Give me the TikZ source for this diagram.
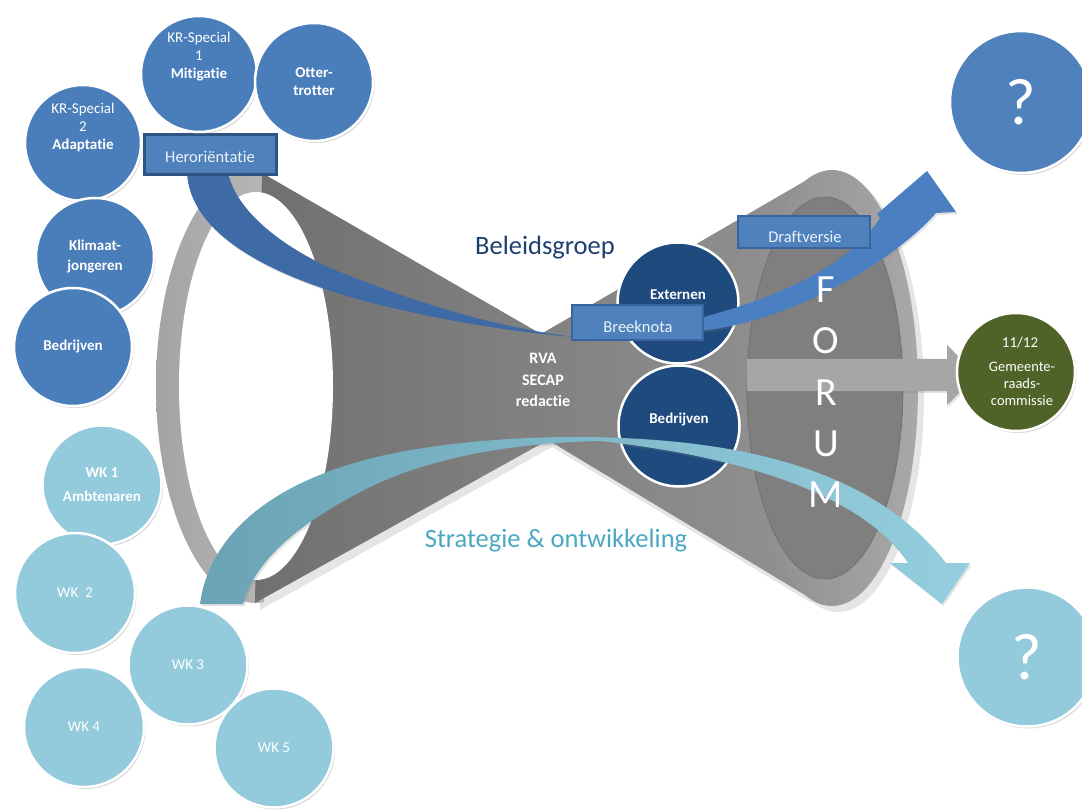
\documentclass[tikz,border=0pt]{standalone}
\usepackage{fontspec}
\setmainfont{Carlito}[Ligatures=NoCommon]
\usetikzlibrary{shadows}
\definecolor{cblue}{HTML}{4F81BD}
\definecolor{cbluec}{HTML}{4A7EBB}
\definecolor{clight}{HTML}{93CADC}
\definecolor{cnavy}{HTML}{1F4A7E}
\definecolor{cgreen}{HTML}{4F6228}
\definecolor{cboxline}{HTML}{3A64A0}
\definecolor{cheroline}{HTML}{2E5484}
\definecolor{carrowb}{HTML}{3E6AA6}
\definecolor{carrowr}{HTML}{4A80C2}
\definecolor{ctitle}{HTML}{1F3F6F}
\definecolor{cstrat}{HTML}{4BA8C2}
\definecolor{cring}{HTML}{B4B4B4}
\definecolor{cface}{HTML}{7F7F7F}
\definecolor{cgarrow}{HTML}{A6A6A6}
\definecolor{cbodyl}{HTML}{707070}
\definecolor{cbodyr}{HTML}{939393}
\definecolor{crimL}{HTML}{8C8C8C}
\definecolor{crimR}{HTML}{A8A8A8}
\definecolor{cstratL}{HTML}{6AA3B3}
\definecolor{cstratR}{HTML}{95CEDF}
\newcommand\fsz[2]{\fontsize{#1}{#2}\selectfont}
\begin{document}
\begin{tikzpicture}[x=1pt,y=-1pt,
 circ/.style={circle,draw=white,line width=2.5pt,inner sep=0pt,text=white,align=center,
   font=\fsz{15}{18},
   drop shadow={opacity=0.3,shadow xshift=1.5pt,shadow yshift=-2pt}},
 ctext/.style={text=white,align=center,inner sep=0pt,font=\fsz{15}{18}},
 boxn/.style={rectangle,fill=cblue,draw=cboxline,line width=2.5pt,inner sep=0pt},
 boxtext/.style={text=white!90!cblue,inner sep=0pt,font=\fsz{16.5}{20}},
 forum/.style={text=white,inner sep=0pt,font=\fsz{40}{40}},
 shad/.style={drop shadow={opacity=0.22,shadow xshift=1.5pt,shadow yshift=-2pt}}
]
\useasboundingbox (0,0) rectangle (1082,810);
\fill[white] (0,0) rectangle (1082,810);

% soft shadow of the funnel
\fill[black, opacity=0.10] (264,178) -- (545,341) -- (810,188) -- (838,184) -- (838,612) -- (810,602) -- (552,447) -- (260,610) -- cycle
  (838,394) ellipse [x radius=86, y radius=218];

% left ring
\begin{scope}
\clip (0,0) rectangle (264,810);
\shade[left color=black!36, right color=black!22] (256,386) ellipse [x radius=100, y radius=217];
\end{scope}
% body
\shade[left color=cbodyl, right color=cbodyr]
  (262,173) -- (541,334) -- (805,181) -- (832,176) -- (832,600) -- (805,595) -- (548,440) -- (255,603) -- cycle;
\shade[left color=crimL, right color=crimR] (832,388) ellipse [x radius=86, y radius=218];
\fill[white] (256,386) ellipse [x radius=77, y radius=194];
\fill[cface, draw=black!58, line width=0.6pt] (825,388) ellipse [x radius=78, y radius=191];

% titles
\node[text=ctitle, font=\fsz{26.5}{30}, inner sep=0pt] (beleid) at (545,248) {Beleidsgroep};
\node[text=cstrat, font=\fsz{26.5}{30}, inner sep=0pt] (strat) at (556,541) {Strategie \& ontwikkeling};
\node[ctext, font=\fsz{16}{21.5}\bfseries] (rva) at (543,380) {RVA\\SECAP\\redactie};

% navy circles
\node[circ, fill=cnavy, minimum size=121] (ext) at (678,303) {};
\node[ctext, font=\fsz{15}{18}\bfseries] (extt) at (678,295) {Externen};
\node[circ, fill=cnavy, minimum size=121] (bedr) at (679,426) {};
\node[ctext, font=\fsz{15}{18}\bfseries] (bedrt) at (679,420) {Bedrijven};

% Herorientatie arrow
\fill[carrowb, shad] (187,173) .. controls (190,230) and (260,275) .. (380,305)
  .. controls (450,322) and (520,333) .. (575,337)
  .. controls (500,328) and (420,305) .. (330,268)
  .. controls (270,240) and (235,205) .. (228,173) -- cycle;

% strategy arrow
\shade[left color=cstratL, right color=cstratR, shad]
  (200,604) .. controls (210,530) and (280,475) .. (400,452)
  .. controls (460,441) and (520,437) .. (580,437)
  .. controls (730,438) and (870,465) .. (946,563)
  -- (970,563) -- (942,604) -- (890,563) -- (908,563)
  .. controls (870,505) and (770,460) .. (600,441)
  .. controls (510,443) and (430,458) .. (370,487)
  .. controls (300,522) and (255,560) .. (243,604) -- cycle;

% right blue arrow
\fill[carrowr, shad] (700,318) .. controls (780,297) and (850,265) .. (880,218)
  -- (877,214) -- (927,171) -- (956,212) -- (936,213)
  .. controls (900,255) and (800,320) .. (700,331) -- cycle;

% boxes
\node[boxn, minimum width=131, minimum height=35] (breek) at (637.5,322.5) {};
\node[boxtext] (breekt) at (638,327) {Breeknota};
\node[boxn, minimum width=132, minimum height=32] (draft) at (804,232) {};
\node[boxtext] (draftt) at (805,237) {Draftversie};
\node[boxn, draw=cheroline, line width=3pt, minimum width=132, minimum height=40] (hero) at (210,155) {};
\node[boxtext] (herot) at (210,157) {Heroriëntatie};

% gray arrow
\fill[cgarrow, shad] (747,359) -- (947,359) -- (947,345) -- (977,375) -- (947,405) -- (947,391) -- (747,391) -- cycle;

% FORUM
\node[forum] (f1) at (826,290) {F};
\node[forum] (f2) at (826,341) {O};
\node[forum] (f3) at (826,393) {R};
\node[forum] (f4) at (826,444) {U};
\node[forum] (f5) at (826,495) {M};

% top-left circles
\node[circ, fill=cbluec, minimum size=116] (kr1) at (199,74) {};
\node[ctext] (kr1t) at (199,57) {KR-Special\\1\\\textbf{Mitigatie}};
\node[circ, fill=cbluec, minimum size=118, font=\fsz{15}{18}\bfseries] (otter) at (314,82) {Otter-\\trotter};
\node[circ, fill=cbluec, minimum size=116] (kr2) at (83,143) {};
\node[ctext] (kr2t) at (83,127) {KR-Special\\2\\\textbf{Adaptatie}};
\node[circ, fill=cbluec, minimum size=118, font=\fsz{15}{20}\bfseries] (klim) at (95,257) {Klimaat-\\jongeren};
\node[circ, fill=cbluec, minimum size=118, font=\fsz{15}{18}\bfseries] (bedrl) at (73,347) {Bedrijven};

% WK circles
\node[circ, fill=clight, minimum size=119, font=\fsz{15}{24}\bfseries] (wk1) at (102,485) {WK 1\\Ambtenaren};
\node[circ, fill=clight, minimum size=120] (wk2) at (75,593) {WK\ \ 2};
\node[circ, fill=clight, minimum size=120] (wk4) at (84,727) {WK 4};
\node[circ, fill=clight, minimum size=119] (wk3) at (188,665) {WK 3};
\node[circ, fill=clight, minimum size=119] (wk5) at (274,748) {WK 5};

% right circles
\node[circ, fill=cblue, minimum size=142, font=\fsz{66}{66}] (q1) at (1021,102) {?};
\node[circ, fill=cgreen, minimum size=118] (gem) at (1016,372) {};
\node[ctext, font=\fsz{15}{17}] (gemd) at (1020,343) {11/12};
\node[ctext, font=\fsz{14.5}{17}] (gemt) at (1022,384) {Gemeente-\\raads-\\commissie};
\node[circ, fill=clight, minimum size=139, font=\fsz{66}{66}] (q2) at (1027,657) {?};
\end{tikzpicture}
\end{document}
